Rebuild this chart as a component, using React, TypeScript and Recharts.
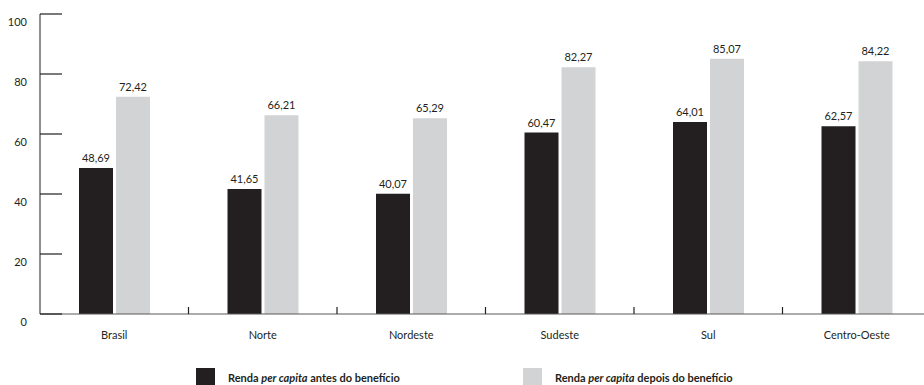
import { BarChart, Bar, XAxis, YAxis, LabelList, Legend } from 'recharts';

const regions = ['Brasil', 'Norte', 'Nordeste', 'Sudeste', 'Sul', 'Centro-Oeste'];
const rendaAntes = [48.69, 41.65, 40.07, 60.47, 64.01, 62.57];
const rendaDepois = [72.42, 66.21, 65.29, 82.27, 85.07, 84.22];
const yTicks = [0, 20, 40, 60, 80, 100];

const DARK = '#231f20';
const LIGHT = '#d1d3d4';
const FONT = 'Lato, "Open Sans", sans-serif';

const CHART_W = 931;
const Y_AXIS_W = 40;
// width of one category band, used to put the small ticks between regions
const BAND = (CHART_W - Y_AXIS_W) / regions.length;

const data = regions.map((name, i) => ({ name, antes: rendaAntes[i], depois: rendaDepois[i] }));

const fmt = (v: any) => Number(v).toFixed(2).replace('.', ',');

function YTick({ x, y, payload }: any) {
  return (
    <g>
      <line x1={x + 13} x2={x + 35} y1={y} y2={y} stroke={DARK} strokeWidth={1.2} />
      <text x={x} y={y + 7} textAnchor="end" dominantBaseline="central" fill={DARK} fontSize={11} fontFamily={FONT}>
        {payload.value}
      </text>
    </g>
  );
}

function XTick({ x, y, payload, index }: any) {
  const axisY = y - 17;
  return (
    <g>
      {index < regions.length - 1 && (
        <line x1={x + BAND / 2} x2={x + BAND / 2} y1={axisY} y2={axisY - 7} stroke={DARK} strokeWidth={1.2} />
      )}
      <text x={x} y={y} dy="0.71em" textAnchor="middle" fill={DARK} fontSize={11} fontFamily={FONT}>
        {payload.value}
      </text>
    </g>
  );
}

function LegendItem({ color, left, label }: { color: string; left: number; label: string }) {
  return (
    <div style={{ position: 'absolute', left, top: 6, display: 'flex', alignItems: 'center' }}>
      <div style={{ width: 19, height: 19, background: color }} />
      <span style={{ marginLeft: 13, fontSize: 11, fontWeight: 700, color: DARK, fontFamily: FONT, lineHeight: 1, whiteSpace: 'nowrap' }}>
        Renda <i>per capita</i> {label}
      </span>
    </div>
  );
}

function LegendContent() {
  return (
    <div style={{ position: 'relative', height: 28, width: '100%' }}>
      <LegendItem color={DARK} left={196} label="antes do benefício" />
      <LegendItem color={LIGHT} left={523} label="depois do benefício" />
    </div>
  );
}

export default function App() {
  return (
    <div style={{ position: 'absolute', left: 0, top: 0, width: 924, height: 385, overflow: 'hidden', background: '#fff' }}>
      <BarChart
        width={CHART_W}
        height={390}
        data={data}
        margin={{ top: 14, right: 0, bottom: 0, left: 0 }}
        barSize={34}
        barGap={3}
      >
        <XAxis
          dataKey="name"
          axisLine={{ stroke: '#58595b' }}
          tickLine={false}
          tickSize={0}
          tickMargin={17}
          height={48}
          interval={0}
          tick={<XTick />}
        />
        <YAxis
          domain={[0, 100]}
          ticks={yTicks}
          width={Y_AXIS_W}
          axisLine={{ stroke: DARK }}
          tickLine={false}
          tickSize={0}
          tickMargin={13}
          tick={<YTick />}
        />
        <Legend verticalAlign="bottom" content={<LegendContent />} />
        <Bar dataKey="antes" fill={DARK} isAnimationActive={false}>
          <LabelList dataKey="antes" position="top" offset={6} formatter={fmt} fill={DARK} fontSize={11} fontFamily={FONT} />
        </Bar>
        <Bar dataKey="depois" fill={LIGHT} isAnimationActive={false}>
          <LabelList dataKey="depois" position="top" offset={6} formatter={fmt} fill={DARK} fontSize={11} fontFamily={FONT} />
        </Bar>
      </BarChart>
    </div>
  );
}
